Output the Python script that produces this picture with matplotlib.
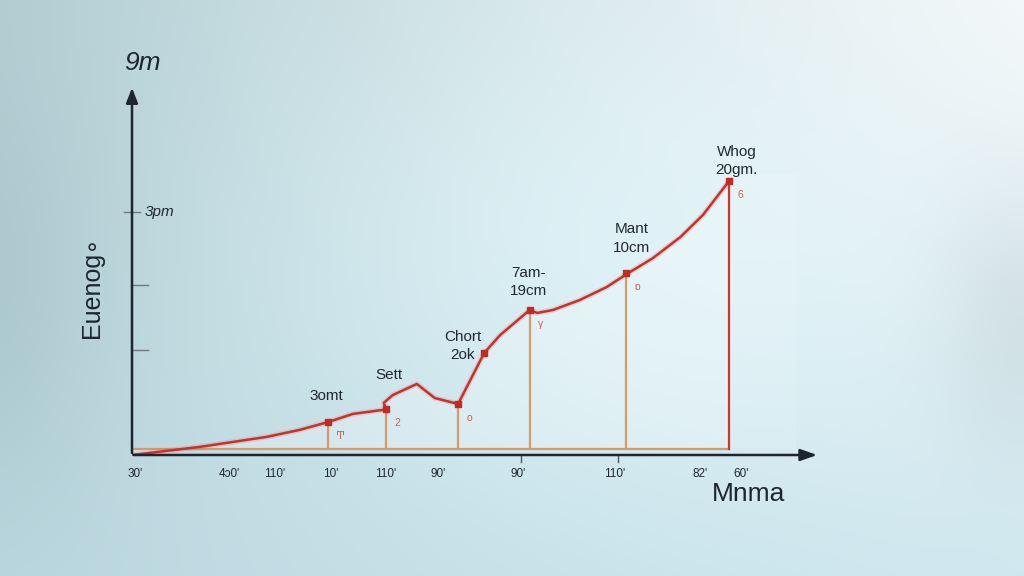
import numpy as np
import matplotlib.pyplot as plt

plt.rcParams['font.family'] = ['Liberation Sans Narrow', 'Liberation Sans', 'DejaVu Sans']

#<---------------------- datos ---------------------->
curva_x = [0, 9.9, 19.6, 24.4, 28.5, 32.1, 36.5, 36.9, 36.6, 37.9, 41.4, 44.0, 47.4, 51.2, 53.5, 57.8, 58.9, 61.2, 65.1, 69.0, 71.9, 75.7, 79.7, 83.0, 86.8]
curva_y = [0, 2.2, 4.9, 6.8, 8.9, 11.1, 12.2, 12.4, 14.1, 16.2, 19.2, 15.4, 13.8, 27.6, 32.4, 39.2, 38.4, 39.2, 41.9, 45.4, 48.9, 53.2, 58.9, 64.9, 74.1]

puntos_x = [28.5, 36.9, 47.4, 51.2, 57.8, 71.8, 86.8]
puntos_y = [8.9, 12.4, 13.8, 27.6, 39.2, 49.2, 74.1]

barras_x = [28.5, 36.9, 47.4, 57.8, 71.8, 86.8]
barras_y = [8.9, 12.4, 13.8, 39.2, 49.2, 74.1]
barras_c = ["#d49a68", "#d49a68", "#d49a68", "#d49a68", "#d49a68", "#d0352c"]
numeros = ["Ͳ", "2", "o", "γ", "ɒ", "6"]

etiquetas = ["3omt", "Sett", "Chort\n2ok", "7am-\n19cm", "Mant\n10cm", "Whog\n20gm."]
etiq_x = [28.2, 37.3, 48.1, 57.6, 72.6, 87.9]
etiq_y = [15.9, 21.6, 29.5, 46.8, 58.5, 79.5]

ticks_x = [0.4, 14.2, 20.8, 28.9, 36.9, 44.5, 56.1, 70.2, 82.6, 88.5]
ticks_lab = ["30'", "4ɔ0'", "110'", "10'", "110'", "90'", "90'", "110'", "82'", "60'"]
ticks_y = [65.7, 45.9, 28.4]

#<---------------------- figura y fondo ---------------------->
fig = plt.figure(figsize=(10.24, 5.76), dpi=100)
fondo = fig.add_axes([0, 0, 1, 1])
gx, gy = np.meshgrid(np.linspace(0, 1, 256), np.linspace(0, 1, 144))
gx = gx[..., None]; gy = gy[..., None]
sup_izq = np.array([0.70, 0.81, 0.83]); sup_der = np.array([0.95, 0.97, 0.975])
inf_izq = np.array([0.73, 0.84, 0.87]); inf_der = np.array([0.82, 0.91, 0.94])
img = (sup_izq * (1 - gx) * (1 - gy) + sup_der * gx * (1 - gy)
       + inf_izq * (1 - gx) * gy + inf_der * gx * gy)
centro = np.exp(-(((gx - 0.55) / 0.35) ** 2 + ((gy - 0.45) / 0.45) ** 2))
img = img + 0.05 * centro
izq = np.exp(-((gx / 0.12) ** 2)) * np.exp(-(((gy - 0.5) / 0.35) ** 2))
img = img - 0.04 * izq
der = np.exp(-(((1 - gx) / 0.08) ** 2)) * np.exp(-(((gy - 0.55) / 0.25) ** 2))
img = img - 0.06 * der
fondo.imshow(np.clip(img, 0, 1), aspect="auto", extent=[0, 1, 0, 1], origin="upper")
fondo.axis("off")

ax = fig.add_axes([132 / 1024, 1 - 455 / 576, 688 / 1024, 370 / 576])
ax.set_xlim(0, 100); ax.set_ylim(0, 100)
ax.axis("off")

#<---------------------- relleno y curva ---------------------->
ax.fill_between(curva_x, 1.6, curva_y, color="white", alpha=0.25, lw=0)
ax.fill_between([86.8, 96.5], 1.6, 76, color="white", alpha=0.12, lw=0)
ax.plot([0, 86.8], [1.6, 1.6], color="#d49a68", lw=1.6)
for x, y, c in zip(barras_x, barras_y, barras_c):
    ax.plot([x, x], [1.6, y], color=c, lw=1.6)
ax.plot(curva_x, curva_y, color="#e06050", lw=4, alpha=0.18, solid_joinstyle="round")
ax.plot(curva_x, curva_y, color="#c9302a", lw=1.8, solid_joinstyle="round")
ax.scatter(puntos_x, puntos_y, color="#c42a24", s=16, marker="s", zorder=5)

for x, y, n in zip(barras_x, barras_y, numeros):
    ax.text(x + 1.2, y - 2.5, n, color="#d06050", fontsize=7.5, ha="left", va="top")
for x, y, s in zip(etiq_x, etiq_y, etiquetas):
    ax.text(x, y, s, color="#202830", fontsize=11, ha="center", va="center", linespacing=1.4)

#<---------------------- ejes ---------------------->
ax.annotate("", xy=(0, 100), xytext=(0, -0.2), annotation_clip=False,
            arrowprops=dict(arrowstyle="-|>,head_length=0.9,head_width=0.35", color="#1c2530", lw=1.8))
ax.annotate("", xy=(100, 0), xytext=(-0.2, 0), annotation_clip=False,
            arrowprops=dict(arrowstyle="-|>,head_length=1.0,head_width=0.35", color="#1c2530", lw=1.8))
ax.plot([-1.2, 1.2], [ticks_y[0], ticks_y[0]], color="#707880", lw=1, clip_on=False)
for y in ticks_y[1:]:
    ax.plot([0, 2.3], [y, y], color="#707880", lw=1, clip_on=False)
ax.text(1.8, ticks_y[0], "3pm", fontsize=11, style="italic", va="center", color="#202830")
for x in [56.5, 70.6]:
    ax.plot([x, x], [0, -2], color="#505860", lw=1, clip_on=False)
for x, s in zip(ticks_x, ticks_lab):
    ax.text(x, -5.2, s, fontsize=8.5, ha="center", va="center", color="#202830")

ax.text(1.5, 106, "9m", fontsize=19, style="italic", ha="center", va="center", color="#1c2530")
ax.text(-5.8, 45.5, "Euenoɡ∘", fontsize=18, rotation=90, ha="center", va="center", color="#1c2530")
ax.text(89.6, -10.6, "Mnma", fontsize=19, ha="center", va="center", color="#1c2530")

fig.savefig("out.png", dpi=100)
